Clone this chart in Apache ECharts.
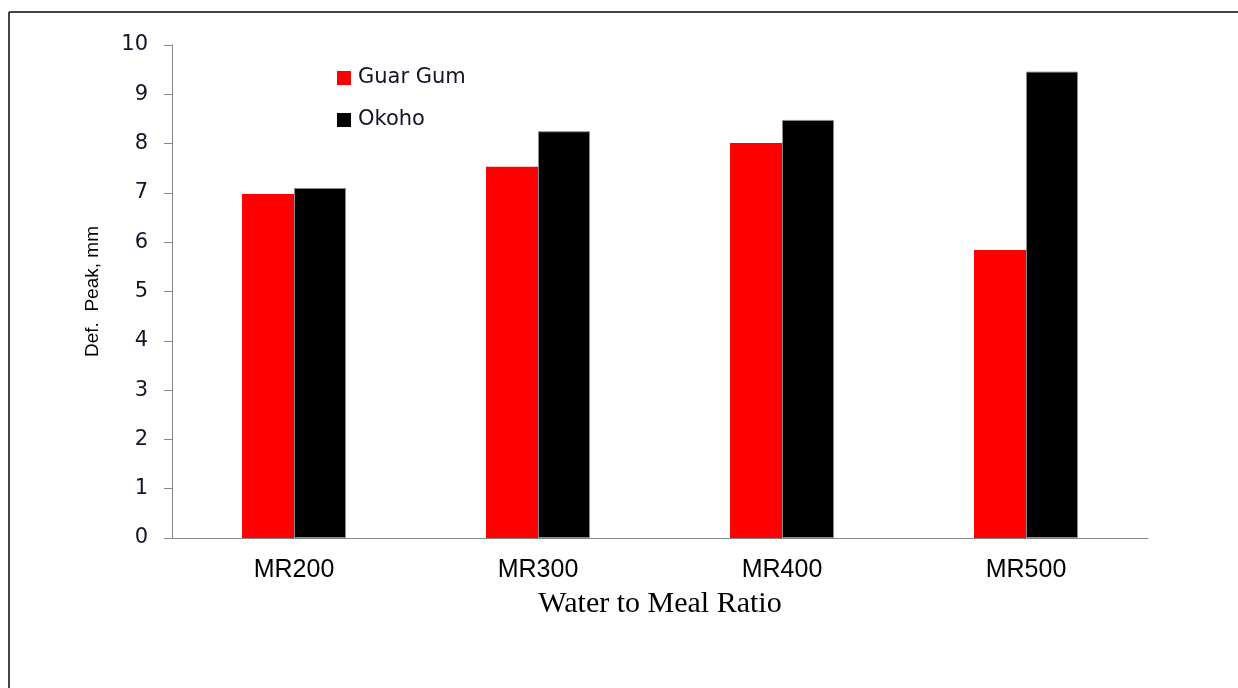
<!DOCTYPE html>
<html>
<head>
<meta charset="utf-8">
<style>
  html, body { margin: 0; padding: 0; background: #fff; }
  #chart { width: 1238px; height: 688px; }
</style>
<script src="https://cdn.jsdelivr.net/npm/echarts@6/dist/echarts.min.js"></script>
</head>
<body>
<div id="chart"></div>
<script>
// Deflection peak by water-to-meal ratio, for two binders
const categories = ['MR200', 'MR300', 'MR400', 'MR500'];
const guarGum = [6.98, 7.53, 8.01, 5.84];
const okoho = [7.10, 8.25, 8.48, 9.46];
const yTicks = { min: 0, max: 10, interval: 1 };

const chart = echarts.init(document.getElementById('chart'));

chart.setOption({
  backgroundColor: '#ffffff',
  animation: false,
  graphic: [
    // frame along the top and left edges
    { type: 'line', shape: { x1: 9, y1: 12, x2: 1238, y2: 12 }, style: { stroke: '#444', lineWidth: 2 } },
    { type: 'line', shape: { x1: 9, y1: 12, x2: 9, y2: 688 }, style: { stroke: '#444', lineWidth: 2 } }
  ],
  grid: { left: 172, right: 90, top: 45, bottom: 150 },
  legend: {
    orient: 'vertical',
    left: 337,
    top: 67,
    padding: 0,
    itemWidth: 14,
    itemHeight: 14,
    itemGap: 20,
    icon: 'rect',
    itemStyle: { borderWidth: 0 },
    textStyle: { fontFamily: 'DejaVu Sans', fontSize: 21, color: '#141428', lineHeight: 22, padding: [0, 0, 0, 2] },
    data: ['Guar Gum', 'Okoho']
  },
  xAxis: {
    type: 'category',
    data: categories,
    name: 'Water to Meal Ratio',
    nameLocation: 'middle',
    nameGap: 51,
    nameTextStyle: { fontFamily: 'Liberation Serif', fontSize: 30, color: '#000' },
    axisLine: { lineStyle: { color: '#868686', width: 1 } },
    axisTick: { show: false },
    axisLabel: { fontFamily: 'Liberation Sans', fontSize: 25, color: '#000', margin: 20 },
    splitLine: { show: false }
  },
  yAxis: {
    type: 'value',
    min: yTicks.min,
    max: yTicks.max,
    interval: yTicks.interval,
    name: 'Def.  Peak, mm',
    nameLocation: 'middle',
    nameGap: 70,
    nameTextStyle: { fontFamily: 'Liberation Sans', fontSize: 19, color: '#000' },
    axisLine: { show: true, lineStyle: { color: '#868686', width: 1 } },
    axisTick: { show: true, length: 8, lineStyle: { color: '#868686' } },
    axisLabel: { fontFamily: 'DejaVu Sans', fontSize: 21, color: '#141428', margin: 24 },
    splitLine: { show: false }
  },
  series: [
    {
      name: 'Guar Gum',
      type: 'bar',
      data: guarGum,
      barWidth: 52,
      barGap: '0%',
      itemStyle: { color: '#ff0000' }
    },
    {
      name: 'Okoho',
      type: 'bar',
      data: okoho,
      barWidth: 52,
      barGap: '0%',
      itemStyle: { color: '#000000', borderColor: '#8a8a8a', borderWidth: 1 }
    }
  ]
});
</script>
</body>
</html>
